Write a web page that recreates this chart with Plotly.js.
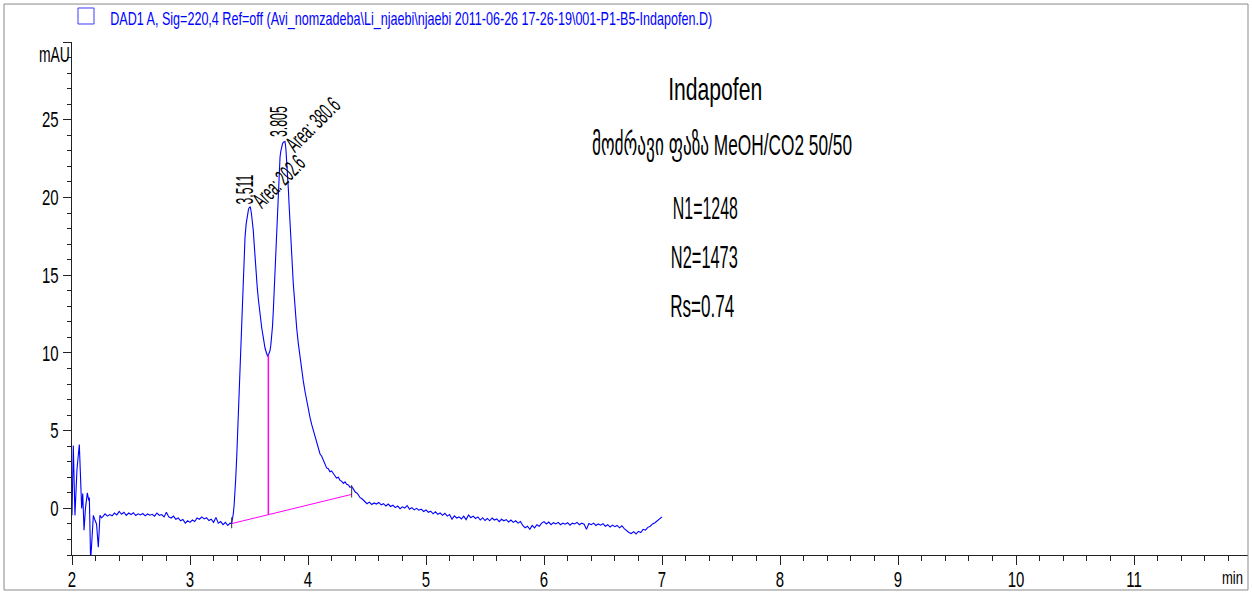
<!DOCTYPE html>
<html>
<head>
<meta charset="utf-8">
<script src="https://cdn.plot.ly/plotly-3.0.1.min.js"></script>
<style>
html,body{margin:0;padding:0;background:#fff;}
#chart{width:1252px;height:592px;}
</style>
</head>
<body>
<div id="chart"></div>
<script>
// ---------- DATA ----------
const timeA = [2.000,2.011,2.025,2.042,2.062,2.074,2.082,2.091,2.102,2.114,2.130,2.142,2.147,2.158,2.181,2.195,2.208,2.223,2.237,2.250];
const sigA  = [-0.45,4.05,-0.45,2.5,4.1,1.8,0.0,0.96,-1.4,0.0,1.0,0.5,0.7,-3.4,-0.45,-0.77,-1.0,-2.5,-0.45,-0.6];

const timeB = [2.26,2.28,2.30,2.32,2.34,2.36,2.38,2.40,2.42,2.44,2.46,2.48,2.50,2.52,2.54,2.56,2.58,2.60,2.62,2.64,2.66,2.68,2.70,2.72,2.74,2.76,2.78,2.80,2.82,2.84,2.86,2.88,2.90,2.92,2.94,2.96,2.98,3.00,3.02,3.04,3.06,3.08,3.10,3.12,3.14,3.16,3.18,3.20,3.22,3.24,3.26,3.28,3.30,3.32,3.34];
const sigB  = [-0.55,-0.35,-0.50,-0.40,-0.48,-0.30,-0.42,-0.20,-0.38,-0.25,-0.45,-0.30,-0.40,-0.28,-0.46,-0.35,-0.42,-0.33,-0.48,-0.36,-0.44,-0.38,-0.50,-0.30,-0.45,-0.40,-0.55,-0.25,-0.55,-0.62,-0.50,-0.70,-0.62,-0.80,-0.72,-0.95,-0.80,-0.90,-0.75,-0.85,-0.62,-0.70,-0.55,-0.68,-0.60,-0.78,-0.70,-0.90,-0.58,-0.95,-0.85,-1.05,-0.90,-1.10,-0.95];

const timeC = [3.353,3.360,3.367,3.374,3.381,3.388,3.396,3.409,3.424,3.438,3.452,3.466,3.476,3.486,3.496,3.503,3.511,3.520,3.528,3.536,3.544,3.551,3.560,3.570,3.580,3.587,3.598,3.608,3.621,3.636,3.650,3.657,3.664,3.671,3.678,3.685,3.692,3.699,3.706,3.713,3.720,3.728,3.735,3.742,3.748,3.756,3.763,3.770,3.777,3.784,3.791,3.798,3.805,3.812,3.820,3.827,3.833,3.840,3.847,3.855,3.862,3.869,3.875,3.883,3.890,3.897,3.904,3.918,3.932,3.946,3.960,3.975,3.989,4.003,4.017,4.031,4.045,4.060,4.074,4.088,4.102,4.116,4.130,4.144,4.158,4.172,4.186,4.200,4.214,4.228,4.242,4.257,4.271,4.285,4.300,4.314,4.328,4.342,4.356,4.370];
const sigC  = [-0.97,-0.70,-0.35,0.20,0.96,2.0,3.3,6.1,9.3,12.5,15.3,17.4,18.3,18.95,19.25,19.35,19.4,19.0,18.5,17.9,17.0,16.1,15.1,14.2,13.4,12.9,12.2,11.6,11.0,10.3,9.96,9.80,9.85,9.95,10.15,10.5,11.0,11.7,12.7,13.9,15.3,16.6,17.9,19.3,20.6,21.7,22.6,23.0,23.3,23.45,23.55,23.6,23.6,23.2,22.4,21.5,20.6,19.5,18.3,17.2,16.1,15.3,14.5,13.7,12.9,12.2,11.6,10.6,9.7,8.9,8.2,7.5,6.9,6.3,5.85,5.4,5.0,4.55,4.2,3.9,3.5,3.35,3.1,2.95,2.6,2.55,2.35,2.4,2.2,2.1,1.95,2.0,1.8,1.75,1.6,1.7,1.55,1.5,1.35,1.40];

const timeD = [4.38,4.40,4.42,4.44,4.46,4.48,4.50,4.52,4.54,4.56,4.58,4.60,4.62,4.64,4.66,4.68,4.70,4.72,4.74,4.76,4.78,4.80,4.82,4.84,4.86,4.88,4.90,4.92,4.94,4.96,4.98,5.00,5.02,5.04,5.06,5.08,5.10,5.12,5.14,5.16,5.18,5.20,5.22,5.24,5.26,5.28,5.30,5.32,5.34,5.36,5.38,5.40,5.42,5.44,5.46,5.48,5.50,5.52,5.54,5.56,5.58,5.60,5.62,5.64,5.66,5.68,5.70,5.72,5.74,5.76,5.78,5.80,5.82,5.84,5.86,5.88,5.90,5.92,5.94,5.96,5.98,6.00,6.02,6.04,6.06,6.08,6.10,6.12,6.14,6.16,6.18,6.20,6.22,6.24,6.26,6.28,6.30,6.32,6.34,6.36,6.38,6.40,6.42,6.44,6.46,6.48,6.50,6.52,6.54,6.56,6.58,6.60,6.62,6.64,6.66,6.68,6.70,6.72,6.74,6.76,6.78,6.80,6.82,6.84,6.86,6.88,6.90,6.92,6.94,6.96,6.98,7.00];
const sigD  = [1.30,1.05,0.95,0.70,0.60,0.45,0.30,0.40,0.25,0.35,0.28,0.38,0.22,0.30,0.15,0.28,0.12,0.20,0.05,0.15,-0.02,0.10,0.02,0.18,-0.05,0.05,-0.10,0.00,-0.12,-0.05,-0.20,-0.10,-0.25,-0.18,-0.35,-0.22,-0.38,-0.30,-0.45,-0.32,-0.50,-0.40,-0.70,-0.48,-0.62,-0.55,-0.68,-0.50,-0.72,-0.42,-0.60,-0.50,-0.65,-0.55,-0.75,-0.60,-0.78,-0.65,-0.80,-0.62,-0.75,-0.68,-0.85,-0.70,-0.80,-0.72,-0.88,-0.75,-0.90,-0.80,-0.95,-0.85,-1.10,-1.25,-1.15,-1.35,-1.10,-1.25,-1.05,-1.15,-0.95,-0.85,-1.00,-0.88,-1.05,-0.92,-1.00,-0.90,-1.05,-0.95,-1.02,-0.92,-1.08,-0.95,-1.00,-0.90,-1.05,-0.95,-1.02,-1.35,-0.98,-1.05,-0.95,-1.10,-1.00,-1.08,-0.98,-1.15,-1.05,-1.20,-1.08,-1.18,-1.10,-1.25,-1.12,-1.30,-1.45,-1.55,-1.62,-1.50,-1.65,-1.48,-1.55,-1.35,-1.40,-1.22,-1.15,-1.00,-0.92,-0.80,-0.72,-0.55];

// integration events
const baseStart = [3.353, -0.98];
const baseEnd   = [4.370, 0.90];
const dropTime  = 3.664;
const valleySig = 9.85;

// peak labels
const peakTimes  = [3.511, 3.805];
const peakAreas  = ["202.6", "380.6"];

// axis ticks
const xTickVals = [2,3,4,5,6,7,8,9,10,11];
const yTickVals = [0,5,10,15,20,25,30];
const yTickText = ["0","5","10","15","20","25",""];

// texts
const legendText = "DAD1 A, Sig=220,4 Ref=off (Avi_nomzadeba\\Li_njaebi\\njaebi 2011-06-26 17-26-19\\001-P1-B5-Indapofen.D)";
const infoTitle  = "Indapofen";
const infoPhase  = "მოძრავი ფაზა MeOH/CO2 50/50";
const infoLines  = ["N1=1248", "N2=1473", "Rs=0.74"];

// ---------- CHART ----------
const time = timeA.concat(timeB, timeC, timeD);
const sig  = sigA.concat(sigB, sigC, sigD);
const FONT = "Liberation Sans, Arial, DejaVu Sans, sans-serif";
const dropBase = baseStart[1] + (baseEnd[1]-baseStart[1])*(dropTime-baseStart[0])/(baseEnd[0]-baseStart[0]);

const traces = [
  {x: time, y: sig, type:'scatter', mode:'lines', line:{color:'#0000FF', width:1.1}, showlegend:false, hoverinfo:'skip'},
  {x:[baseStart[0], baseEnd[0]], y:[baseStart[1], baseEnd[1]], type:'scatter', mode:'lines', line:{color:'#FF00FF', width:1}, showlegend:false},
  {x:[dropTime, dropTime], y:[dropBase, valleySig], type:'scatter', mode:'lines', line:{color:'#FF00FF', width:1.5}, showlegend:false},
  {x:[baseEnd[0], baseEnd[0]], y:[baseEnd[1]-0.2, baseEnd[1]+0.6], type:'scatter', mode:'lines', line:{color:'#333333', width:1}, showlegend:false},
  {x:[baseStart[0], baseStart[0]], y:[baseStart[1]-0.3, baseStart[1]+0.4], type:'scatter', mode:'lines', line:{color:'#333333', width:1}, showlegend:false}
];

// annotation list with target widths (px) for condensed look
const annotations = [];
const annWidth = [];
function addAnn(a, w){ annotations.push(Object.assign({showarrow:false, xanchor:'center', yanchor:'middle'}, a)); annWidth.push(w); }

addAnn({xref:'paper', yref:'paper', x:0.2883, y:1.0448, text:legendText, font:{family:FONT, size:19, color:'#0000FF'}}, 602);
addAnn({xref:'paper', yref:'paper', x:-0.0153, y:0.9747, text:'mAU', font:{family:FONT, size:22, color:'#000'}}, 31);
addAnn({xref:'paper', yref:'paper', x:0.9864, y:-0.045, text:'min', font:{family:FONT, size:18, color:'#000'}}, 21);
addAnn({xref:'x', yref:'y', x:7.449, y:27.0, text:infoTitle, font:{family:FONT, size:32, color:'#000'}}, 94);
addAnn({xref:'x', yref:'y', x:7.508, y:23.4, text:infoPhase, font:{family:FONT, size:30, color:'#000'}}, 260);
const infoY = [19.32, 16.11, 12.96];
const infoX = [7.37, 7.36, 7.34];
const infoW = [65, 67, 64];
infoLines.forEach((t,i)=> addAnn({xref:'x', yref:'y', x:infoX[i], y:infoY[i], text:t, font:{family:FONT, size:31, color:'#000'}}, infoW[i]));
// peak labels
const rtPos   = [[3.462, 20.48],[3.750, 24.86]];
const areaPos = [[3.754, 21.07],[4.042, 24.73]];
const rtW = [30, 31], areaW = [63, 66];
peakTimes.forEach((t,i)=>{
  addAnn({xref:'x', yref:'y', x:rtPos[i][0], y:rtPos[i][1], text:t.toFixed(3), textangle:-90, font:{family:FONT, size:23, color:'#000'}}, rtW[i]);
  addAnn({xref:'x', yref:'y', x:areaPos[i][0], y:areaPos[i][1], text:'Area: '+peakAreas[i], textangle:-45, font:{family:FONT, size:23, color:'#000'}}, areaW[i]);
});

const layout = {
  width:1252, height:592,
  margin:{l:72, r:4, t:42, b:37},
  paper_bgcolor:'#fff', plot_bgcolor:'#fff',
  showlegend:false,
  xaxis:{range:[2, 11.966], showgrid:false, zeroline:false, showline:true, linecolor:'#222', linewidth:1,
         ticks:'outside', ticklen:9, tickcolor:'#222', tickvals:xTickVals, ticktext:xTickVals.map(String),
         ticklabelstandoff:-4,
         minor:{dtick:0.2, tick0:2, ticks:'outside', ticklen:5, tickcolor:'#222', showgrid:false},
         tickfont:{family:FONT, size:22, color:'#000'}},
  yaxis:{range:[-3.0, 30.0], showgrid:false, zeroline:false, showline:true, linecolor:'#222', linewidth:1,
         ticks:'outside', ticklen:8, tickcolor:'#222', tickvals:yTickVals, ticktext:yTickText,
         minor:{dtick:1, tick0:0, ticks:'outside', ticklen:4, tickcolor:'#222', showgrid:false},
         tickfont:{family:FONT, size:22, color:'#000'}},
  shapes:[
    {type:'rect', xref:'paper', yref:'paper', x0:-0.0578, x1:1.0, y0:-0.0682, y1:1.074, line:{color:'#8a8a8a', width:1}},
    {type:'rect', xref:'paper', yref:'paper', x0:0.0051, x1:0.0187, y0:1.0351, y1:1.0663, line:{color:'#3a3aff', width:1}}
  ],
  annotations: annotations
};

Plotly.newPlot('chart', traces, layout, {staticPlot:true, displayModeBar:false}).then(gd=>{
  gd.querySelectorAll('g.annotation').forEach(g=>{
    const i = +g.getAttribute('data-index');
    const t = g.querySelector('text.annotation-text');
    if(!t || !(i in annWidth)) return;
    t.setAttribute('textLength', annWidth[i]);
    t.setAttribute('lengthAdjust', 'spacingAndGlyphs');
  });
  gd.querySelectorAll('.xtick text, .ytick text').forEach(t=>{
    const w = t.getComputedTextLength();
    if(w>0){ t.setAttribute('textLength', w*0.68); t.setAttribute('lengthAdjust','spacingAndGlyphs'); }
  });
});
</script>
</body>
</html>
